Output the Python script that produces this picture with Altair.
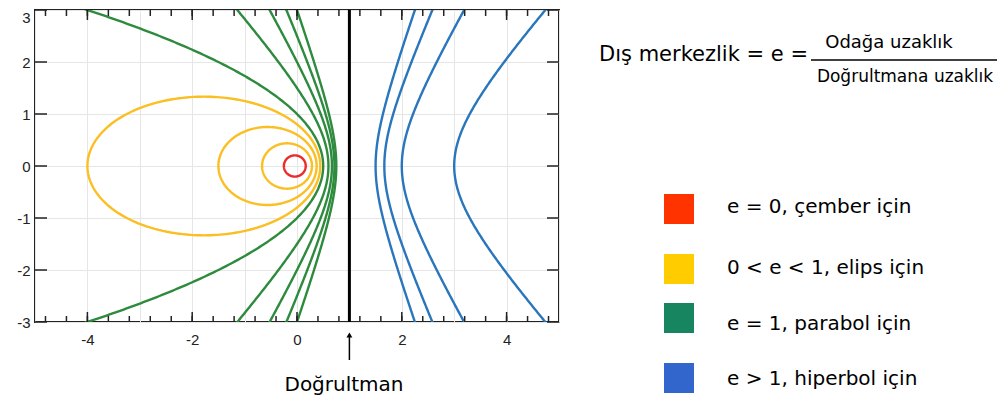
import altair as alt
import numpy as np
import pandas as pd

# ---- data (eccentricities; focus at origin, directrix x = 1) ----
directrix_x = 1.0
ecc_circle = [0.2]
ecc_ellipse = [0.4, 0.6, 0.8]
ecc_parabola = [1.0]
ecc_hyperbola = [1.5, 2.0, 2.5, 3.0]
x_major_ticks = [-4, -2, 0, 2, 4]
x_grid = [-5, -4, -3, -2, -1, 0, 1, 2, 3, 4, 5]
y_ticks = [-3, -2, -1, 0, 1, 2, 3]
x_minor_ticks = [round(-4.8 + 0.4 * i, 1) for i in range(25)]
legend_labels = ["e = 0, çember için", "0 < e < 1, elips için", "e = 1, parabol için", "e > 1, hiperbol için"]
legend_colors = ["#ff3300", "#ffcc00", "#168560", "#3366cc"]
curve_colors = {"circle": "#ee2b2b", "ellipse": "#fbbf24", "parabola": "#2e8b3e", "hyperbola": "#2a76bd"}

# ---- build conic curves from the eccentricities ----
rows = []
cid = 0
d = directrix_x
for kind, es in (("circle", ecc_circle), ("ellipse", ecc_ellipse)):
    for e in es:
        th = np.linspace(0, 2 * np.pi, 361)
        r = e * d / (1 + e * np.cos(th))
        for i, (a, b) in enumerate(zip(r * np.cos(th), r * np.sin(th))):
            rows.append((cid, kind, i, a, b))
        cid += 1
ys = np.linspace(-3.3, 3.3, 331)
for e in ecc_parabola:
    for i, yv in enumerate(ys):
        rows.append((cid, "parabola", i, (d * d - yv * yv) / (2 * d), yv))
    cid += 1
for e in ecc_hyperbola:
    disc = np.sqrt(e * e * d * d + (e * e - 1) * ys ** 2)
    near = (e * e * d - disc) / (e * e - 1)
    far = (e * e * d + disc) / (e * e - 1)
    for i, (xn, yv) in enumerate(zip(near, ys)):
        rows.append((cid, "parabola", i, xn, yv))
    cid += 1
    for i, (xf, yv) in enumerate(zip(far, ys)):
        rows.append((cid, "hyperbola", i, xf, yv))
    cid += 1
curves = pd.DataFrame(rows, columns=["curve", "kind", "i", "x", "y"])

W, H = 524, 312
xs = alt.Scale(domain=[-5, 5], nice=False, zero=False)
ysc = alt.Scale(domain=[-3, 3], nice=False, zero=False)
lab_font = "Liberation Sans"
txt_font = "DejaVu Sans"

lines = alt.Chart(curves).mark_line(clip=True, strokeWidth=2.4).encode(
    x=alt.X("x:Q", scale=xs, title=None,
            axis=alt.Axis(values=x_grid, grid=True, gridColor="#e6e6e6", gridWidth=1,
                          domain=False, ticks=False, labelPadding=10,
                          labelExpr="datum.value % 2 == 0 ? '' + datum.value : ''",
                          labelFont=lab_font, labelFontSize=15, labelColor="#222")),
    y=alt.Y("y:Q", scale=ysc, title=None,
            axis=alt.Axis(values=y_ticks, grid=True, gridColor="#e6e6e6", gridWidth=1,
                          domain=False, ticks=False, labelPadding=5,
                          labelExpr="'' + datum.value",
                          labelBaseline={"condition": {"test": "datum.value == 3", "value": "top"},
                                         "value": "middle"},
                          labelFont=lab_font, labelFontSize=15, labelColor="#222")),
    detail="curve:N",
    order="i:Q",
    color=alt.Color("kind:N", legend=None,
                    scale=alt.Scale(domain=list(curve_colors.keys()), range=list(curve_colors.values()))),
)

directrix = alt.Chart(pd.DataFrame({"v": [directrix_x]})).mark_rule(color="black", strokeWidth=3).encode(
    x=alt.X("v:Q", scale=xs, title=None))

# inward ticks
def xticks(vals, y0, y1):
    return alt.Chart(pd.DataFrame({"v": vals})).mark_rule(color="#222", strokeWidth=1.5).encode(
        x=alt.X("v:Q", scale=xs, title=None), y=alt.value(y0), y2=alt.value(y1))

def yticks(vals, x0, x1):
    return alt.Chart(pd.DataFrame({"v": vals})).mark_rule(color="#222", strokeWidth=1.5).encode(
        y=alt.Y("v:Q", scale=ysc, title=None), x=alt.value(x0), x2=alt.value(x1))

ticks = [
    xticks(x_minor_ticks, H, H - 6), xticks(x_minor_ticks, 0, 6),
    xticks(x_major_ticks, H, H - 10), xticks(x_major_ticks, 0, 10),
    yticks(y_ticks, 0, 12), yticks(y_ticks, W - 12, W),
]

one = pd.DataFrame({"a": [0]})

def text(s, x, y, size, align="center", font=txt_font):
    return alt.Chart(one).mark_text(font=font, fontSize=size, align=align, baseline="middle",
                                    color="black").encode(x=alt.value(x), y=alt.value(y), text=alt.value(s))

# arrow to the directrix
arrow_shaft = alt.Chart(pd.DataFrame({"v": [directrix_x]})).mark_rule(color="black", strokeWidth=1.5).encode(
    x=alt.X("v:Q", scale=xs, title=None), y=alt.value(327), y2=alt.value(350))
arrow_head = alt.Chart(pd.DataFrame({"v": [directrix_x]})).mark_point(
    shape="triangle-up", filled=True, color="black", size=35, opacity=1).encode(
    x=alt.X("v:Q", scale=xs, title=None), y=alt.value(325))

annot = [
    text("Doğrultman", 309, 375, 20),
    text("Dış merkezlik = e =", 773, 45, 21, align="right"),
    text("Odağa uzaklık", 854, 33, 18),
    text("Doğrultmana uzaklık", 870, 67, 17),
    alt.Chart(one).mark_rule(color="black", strokeWidth=1.3).encode(
        x=alt.value(776), x2=alt.value(965), y=alt.value(50)),
]

legend_y = [184, 244, 293, 353]
label_y = [197, 258, 314, 369]
legend = []
for lab, col, yy, ly in zip(legend_labels, legend_colors, legend_y, label_y):
    legend.append(alt.Chart(one).mark_rect(color=col).encode(
        x=alt.value(629), x2=alt.value(659), y=alt.value(yy), y2=alt.value(yy + 30)))
    legend.append(text(lab, 692, ly, 20, align="left"))

chart = alt.layer(lines, directrix, *ticks, arrow_shaft, arrow_head, *annot, *legend).properties(
    width=W, height=H,
    autosize=alt.AutoSizeParams(type="none"),
    padding={"left": 27, "top": 2, "right": 438, "bottom": 79},
).configure_view(stroke="#222", strokeWidth=2)

chart.save("out.html", embed_options={"renderer": "svg", "actions": False})
